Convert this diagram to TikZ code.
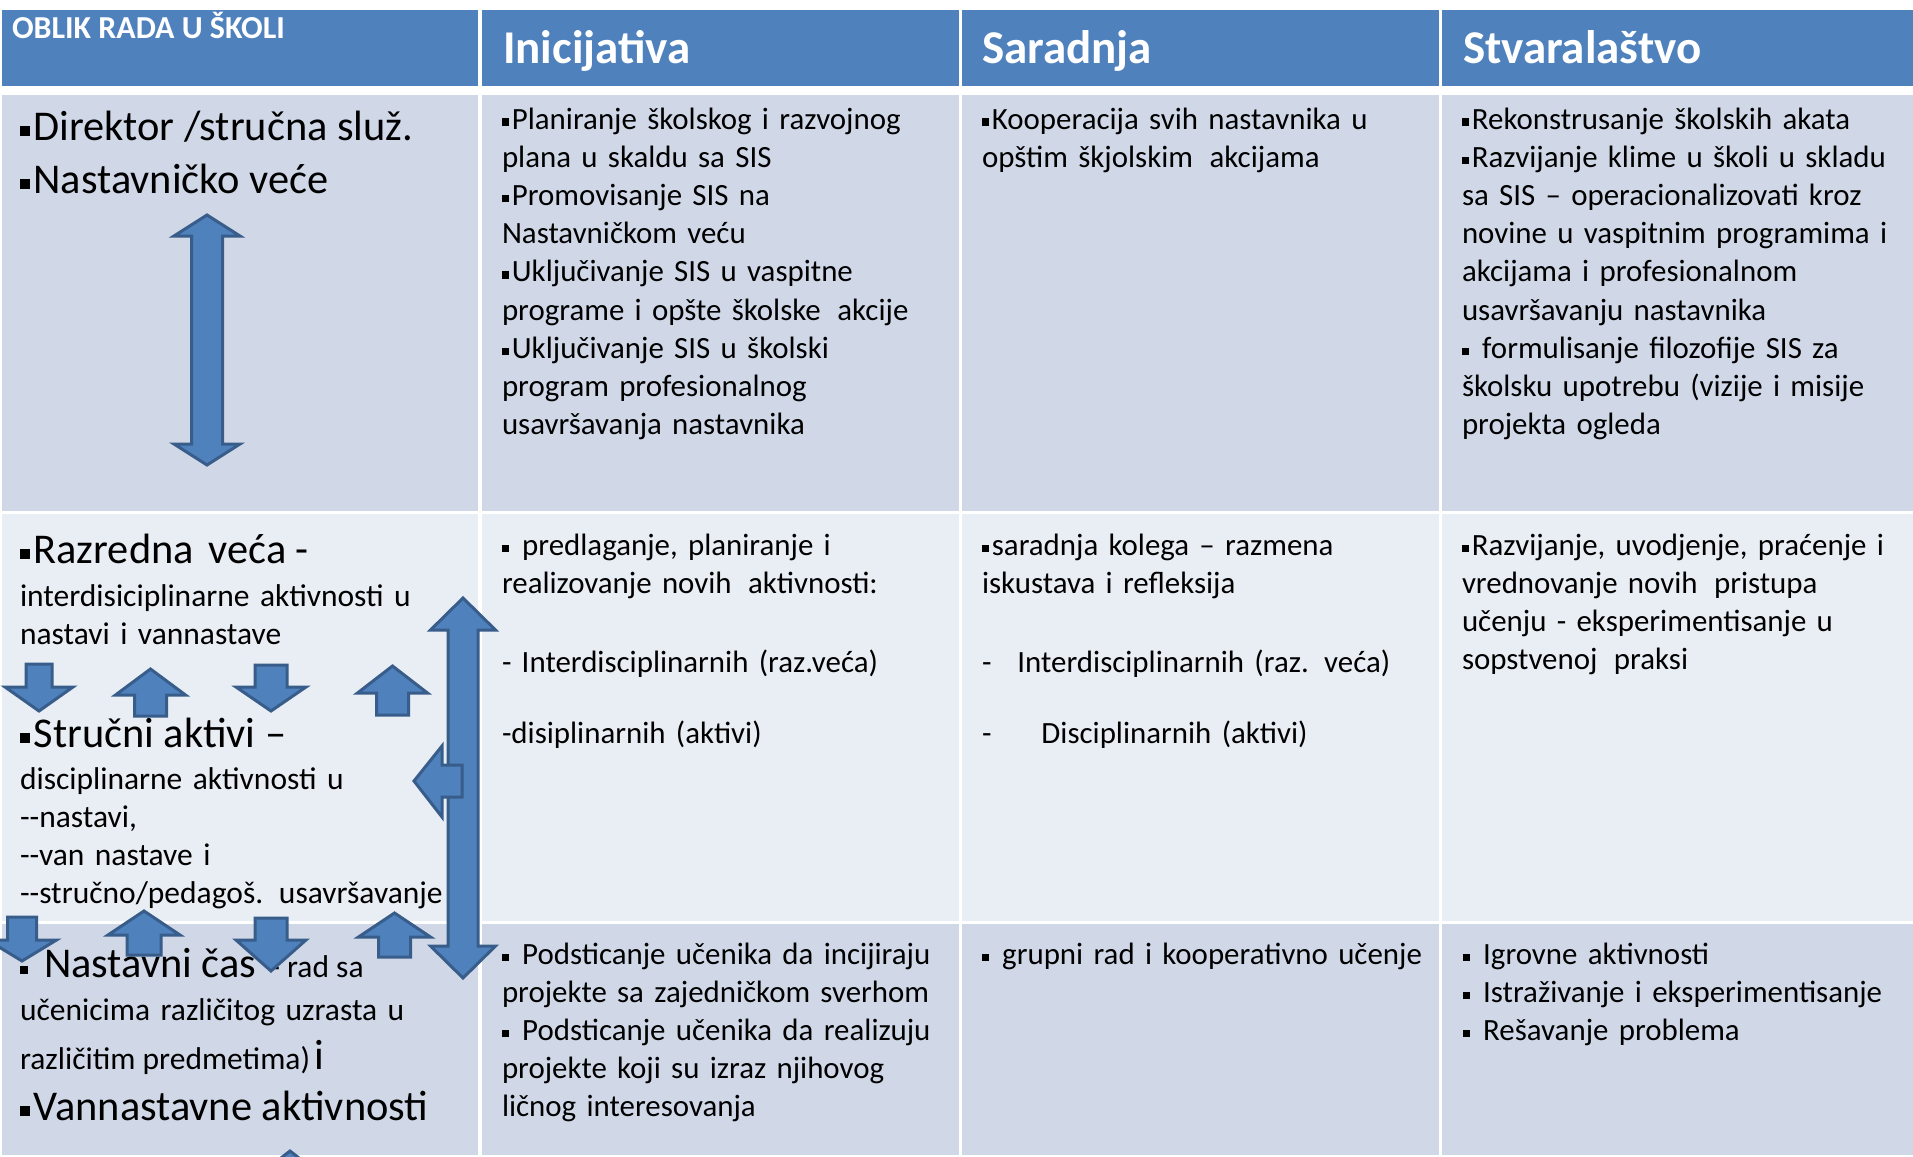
\documentclass[tikz,border=0pt]{standalone}
\usepackage{fontspec}
\setmainfont{Carlito}
\definecolor{hdr}{HTML}{4F81BD}
\definecolor{rowA}{HTML}{D0D8E8}
\definecolor{rowB}{HTML}{E9EDF4}
\definecolor{arrfill}{HTML}{4F81BD}
\definecolor{arrline}{HTML}{385D8A}
\newcommand\fbody{\fontsize{15.45}{19.1}\selectfont}
\newcommand\fleft{\fontsize{15.75}{19.1}\selectfont}
\newcommand\fbig{\fontsize{21.2}{26}\selectfont}
\newcommand\fhead{\bfseries\fontsize{23.5}{28}\selectfont}
\newcommand\fcorner{\bfseries\fontsize{16}{18}\selectfont}
\newcommand\bul{\rule[0.1em]{0.24em}{0.24em}\kern0.08em}
\newcommand\dd{-\kern0pt-}
\newcommand\varrow[6]{% cx, tip y, head base y, end y, head half, shaft half
  \draw[blockarrow] (#1,#2) -- ({#1+#5},#3) -- ({#1+#6},#3) -- ({#1+#6},#4) -- ({#1-#6},#4) -- ({#1-#6},#3) -- ({#1-#5},#3) -- cycle;}
\newcommand\dvarrow[7]{% cx, top tip, top base, bottom base, bottom tip, head half, shaft half
  \draw[blockarrow] (#1,#2) -- ({#1+#6},#3) -- ({#1+#7},#3) -- ({#1+#7},#4) -- ({#1+#6},#4) -- (#1,#5) -- ({#1-#6},#4) -- ({#1-#7},#4) -- ({#1-#7},#3) -- ({#1-#6},#3) -- cycle;}
\begin{document}
\begin{tikzpicture}[x=0.5pt,y=-0.5pt,
  blockarrow/.style={fill=arrfill,draw=arrline,line width=1.5pt,line join=miter},
  cell/.style={inner sep=0pt,outer sep=0pt,anchor=base west},
  body/.style={cell,align=left,text width=300pt,font=\fbody},
  lbody/.style={cell,align=left,text width=300pt,font=\fleft},
  big/.style={cell,font=\fbig},
  head/.style={cell,font=\fhead,text=white}]
\useasboundingbox (0,0) rectangle (1913,1157);
\fill[white] (0,0) rectangle (1913,1157);
% header row
\fill[hdr] (2,10) rectangle (478,86);
\fill[hdr] (482,10) rectangle (959,86);
\fill[hdr] (962,10) rectangle (1439,86);
\fill[hdr] (1442,10) rectangle (1913,86);
% row 1
\fill[rowA] (2,95) rectangle (478,511);
\fill[rowA] (482,95) rectangle (959,511);
\fill[rowA] (962,95) rectangle (1439,511);
\fill[rowA] (1442,95) rectangle (1913,511);
% row 2
\fill[rowB] (2,514) rectangle (478,921);
\fill[rowB] (482,514) rectangle (959,921);
\fill[rowB] (962,514) rectangle (1439,921);
\fill[rowB] (1442,514) rectangle (1913,921);
% row 3
\fill[rowA] (2,924) rectangle (478,1155);
\fill[rowA] (482,924) rectangle (959,1155);
\fill[rowA] (962,924) rectangle (1439,1155);
\fill[rowA] (1442,924) rectangle (1913,1155);

% header texts
\node[cell,font=\fcorner,text=white] (corner) at (12,38) {OBLIK RADA U ŠKOLI};
\node[head] (h1) at (503,63) {Inicijativa};
\node[head] (h2) at (982,63) {Saradnja};
\node[head] (h3) at (1463,63) {Stvaralaštvo};

% left column
\node[big] (l1) at (20,140) {\bul Direktor /stručna služ.};
\node[big] (l2) at (20,193) {\bul Nastavničko veće};
\node[big] (l3) at (20,563) {\bul Razredna\hspace{0.35em}veća -};
\node[lbody] (l4) at (20,606) {interdisiciplinarne aktivnosti u\\nastavi i vannastave};
\node[big] (l5) at (20,747) {\bul Stručni aktivi –};
\node[lbody] (l6) at (20,789) {disciplinarne aktivnosti u\\\dd nastavi,\\\dd van nastave i\\\dd stručno/pedagoš. usavršavanje};
\node[cell] (l7) at (20,977) {{\fleft\bul}\hspace{7pt}{\fbig Nastavni čas}\hspace{7pt}{\fleft - rad sa}};
\node[lbody] (l8) at (20,1020) {učenicima različitog uzrasta u};
\node[cell] (l9) at (20,1069) {{\fleft različitim predmetima)} {\fbig i}};
\node[big] (l10) at (20,1120) {\bul Vannastavne aktivnosti};

% row 1
\node[body] (r1c2) at (502,129) {\bul Planiranje školskog i razvojnog\\plana u skaldu sa SIS\\\bul Promovisanje SIS na\\Nastavničkom veću\\\bul Uključivanje SIS u vaspitne\\programe i opšte školske\hspace{0.2em} akcije\\\bul Uključivanje SIS u školski\\program profesionalnog\\usavršavanja nastavnika};
\node[body] (r1c3) at (982,129) {\bul Kooperacija svih nastavnika u\\opštim škjolskim\hspace{0.2em} akcijama};
\node[body] (r1c4) at (1462,129) {\bul Rekonstrusanje školskih akata\\\bul Razvijanje klime u školi u skladu\\sa SIS – operacionalizovati kroz\\novine u vaspitnim programima i\\akcijama i profesionalnom\\usavršavanju nastavnika\\\bul\ formulisanje filozofije SIS za\\školsku upotrebu (vizije i misije\\projekta ogleda};

% row 2
\node[body] (r2c2a) at (502,555) {\bul\ predlaganje, planiranje i\\realizovanje novih\hspace{0.2em} aktivnosti:};
\node[body] (r2c2b) at (502,672) {- Interdisciplinarnih (raz.veća)};
\node[body] (r2c2c) at (502,743) {-disiplinarnih (aktivi)};
\node[body] (r2c3a) at (982,555) {\bul saradnja kolega – razmena\\iskustava i refleksija};
\node[body] (r2c3b) at (982,672) {-\hspace{13pt}Interdisciplinarnih (raz. veća)};
\node[body] (r2c3c) at (982,743) {-\hspace{25pt}Disciplinarnih (aktivi)};
\node[body] (r2c4) at (1462,555) {\bul Razvijanje, uvodjenje, praćenje i\\vrednovanje novih\hspace{0.2em} pristupa\\učenju - eksperimentisanje u\\sopstvenoj\hspace{0.2em} praksi};

% row 3
\node[body] (r3c2) at (502,964) {\bul\ Podsticanje učenika da incijiraju\\projekte sa zajedničkom sverhom\\\bul\ Podsticanje učenika da realizuju\\projekte koji su izraz njihovog\\ličnog interesovanja};
\node[body] (r3c3) at (982,964) {\bul\ grupni rad i kooperativno učenje};
\node[body] (r3c4) at (1463,964) {\bul\ Igrovne aktivnosti\\\bul\ Istraživanje i eksperimentisanje\\\bul\ Rešavanje problema};

% block arrows
\dvarrow{207}{215}{236}{444}{465}{33}{15.5}
\dvarrow{463}{598}{630}{946}{978}{32.5}{15}
\draw[blockarrow] (414,781) -- (442,746) -- (442,765) -- (462,765) -- (462,797) -- (442,797) -- (442,817) -- cycle;
% first row of small arrows
\varrow{39}{711}{687}{664}{34}{13}
\varrow{150.5}{669}{695}{716}{35}{16}
\varrow{271}{711}{687}{665}{35}{16}
\varrow{392.5}{666}{693}{715}{35}{16}
% second row of small arrows
\varrow{22}{961}{940}{917}{34.5}{14.5}
\varrow{144}{911}{935}{955}{36}{17}
\varrow{271}{971}{940}{918}{35}{16}
\varrow{394.5}{913}{937}{957}{36}{16}
\begin{scope}
\clip (0,0) rectangle (1913,1157);
\varrow{290}{1151}{1178}{1200}{35}{16}
\end{scope}
\end{tikzpicture}
\end{document}
